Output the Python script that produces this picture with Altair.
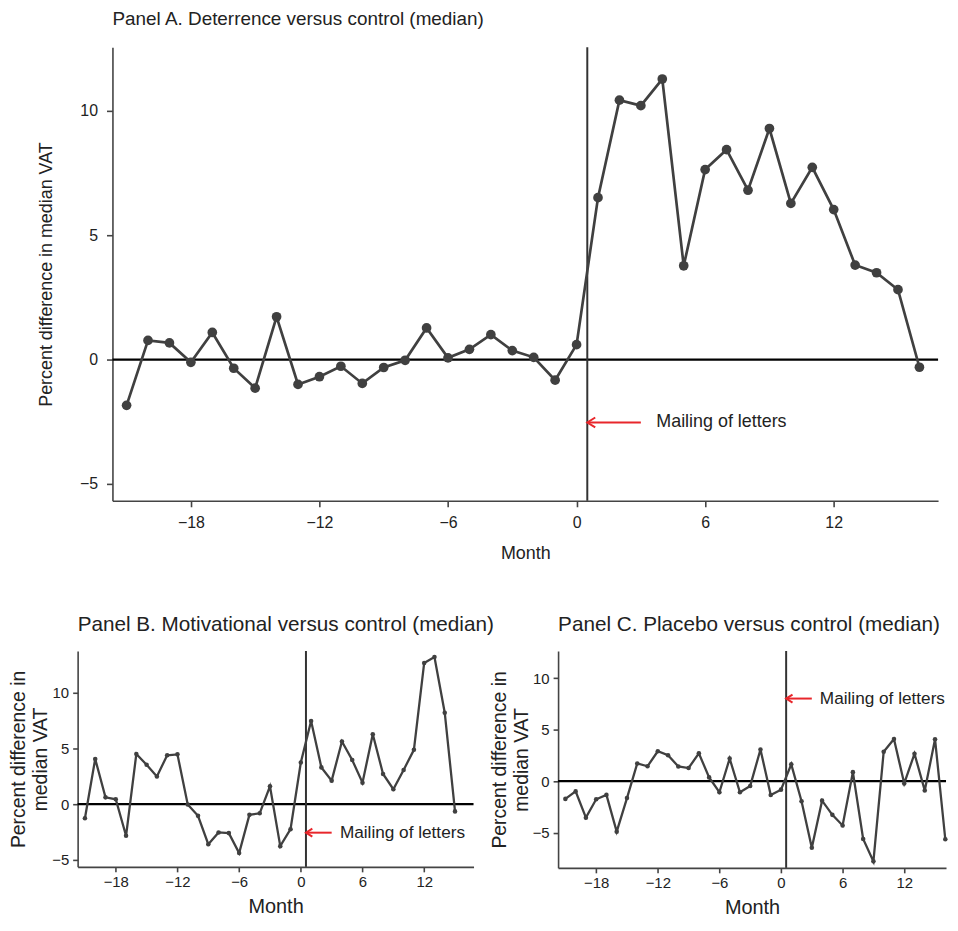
import altair as alt
import pandas as pd

# ---------------- data ----------------
months_a = list(range(-21, 17))
vat_a = [-1.84, 0.77, 0.67, -0.11, 1.09, -0.35, -1.15, 1.72, -1.0, -0.69, -0.27,
         -0.96, -0.32, -0.03, 1.27, 0.07, 0.41, 1.0, 0.36, 0.09, -0.83, 0.6,
         6.51, 10.43, 10.21, 11.28, 3.77, 7.64, 8.44, 6.81, 9.29, 6.28, 7.73,
         6.03, 3.8, 3.49, 2.81, -0.31]

months_b = list(range(-21, 16))
vat_b = [-1.26, 4.06, 0.61, 0.44, -2.84, 4.5, 3.54, 2.49, 4.39, 4.47, -0.03,
         -1.05, -3.6, -2.54, -2.6, -4.39, -0.96, -0.82, 1.61, -3.77, -2.25, 3.74,
         7.47, 3.3, 2.11, 5.63, 3.96, 1.93, 6.28, 2.71, 1.34, 3.07, 4.88, 12.68,
         13.21, 8.21, -0.65]

months_c = list(range(-21, 17))
vat_c = [-1.72, -0.99, -3.54, -1.76, -1.33, -4.9, -1.64, 1.72, 1.45, 2.91, 2.52,
         1.43, 1.28, 2.71, 0.37, -1.07, 2.2, -1.07, -0.46, 3.08, -1.35, -0.82,
         1.64, -1.95, -6.47, -1.89, -3.27, -4.3, 0.88, -5.61, -7.79, 2.87, 4.1,
         -0.22, 2.67, -0.91, 4.08, -5.64]

panel_titles = ["Panel A. Deterrence versus control (median)",
                "Panel B. Motivational versus control (median)",
                "Panel C. Placebo versus control (median)"]
mailing_label = "Mailing of letters"
mailing_month = 0.5
arrow_end = [3.0, 3.0, 3.0]
label_month = [3.72, 3.8, 3.78]
arrow_vat = [-2.53, -2.56, 8.03]
x_ticks = [-18, -12, -6, 0, 6, 12]
y_ticks = [-5, 0, 5, 10]

FONT = "Liberation Sans"
DARK = "#404040"
RED = "#e8262b"
TXT = "#222222"

# panel A sits 35 px to the right of panel B's left edge
A_SHIFT = 35


def panel(months, vals, idx, xdom, ydom, w, h, big):
    df = pd.DataFrame({"month": months, "vat": vals})
    if big:
        xaxis = alt.Axis(values=x_ticks, title="Month", labelFontSize=16, titleFontSize=18,
                         tickSize=6, labelPadding=8, titlePadding=14)
        yaxis = alt.Axis(values=y_ticks, title="Percent difference in median VAT",
                         labelFontSize=16, titleFontSize=18, offset=-A_SHIFT,
                         tickSize=6, labelPadding=9, titlePadding=24)
        xscale = alt.Scale(domain=xdom, nice=False, zero=False, range=[A_SHIFT, w])
        sw, sz, tfs, hs, tdx, toff, mfs = 2.7, 95, 19, 100, A_SHIFT, 17, 18
    else:
        xaxis = alt.Axis(values=x_ticks, title="Month", labelFontSize=15, titleFontSize=20,
                         tickSize=5, labelPadding=3, titlePadding=7)
        yaxis = alt.Axis(values=y_ticks, title=["Percent difference in", "median VAT"],
                         labelFontSize=15, titleFontSize=19.5, titleLineHeight=22,
                         tickSize=5, labelPadding=4, titlePadding=1)
        xscale = alt.Scale(domain=xdom, nice=False, zero=False)
        sw, sz, tfs, hs, tdx, toff, mfs = 2.3, 21, 20.8, 64, 0, 14, 17.3
    x = alt.X("month:Q", scale=xscale, axis=xaxis)
    y = alt.Y("vat:Q", scale=alt.Scale(domain=ydom, nice=False, zero=False), axis=yaxis)

    base = alt.Chart(df)
    line = base.mark_line(color=DARK, strokeWidth=sw).encode(x=x, y=y)
    pts = base.mark_circle(color=DARK, size=sz, opacity=1).encode(x=x, y=y)
    zero = alt.Chart(pd.DataFrame({"month": [xdom[0]], "month2": [xdom[1]], "vat": [0]})
                     ).mark_rule(color="black", strokeWidth=2.2).encode(
        x=x, x2="month2:Q", y=y)
    vline = alt.Chart(pd.DataFrame({"month": [mailing_month]})).mark_rule(
        color="#333333", strokeWidth=2).encode(x=x)
    ann = pd.DataFrame({"month": [mailing_month], "month2": [arrow_end[idx]],
                        "vat": [arrow_vat[idx]]})
    arrow = alt.Chart(ann).mark_rule(color=RED, strokeWidth=2).encode(
        x=x, x2="month2:Q", y=y)
    head = alt.Chart(ann).mark_point(
        shape="M 1.6 -1 L 0 0 L 1.6 1", filled=False, color=RED, strokeWidth=2,
        size=hs, opacity=1).encode(x=x, y=y)
    txt = alt.Chart(pd.DataFrame({"month": [label_month[idx]], "vat": [arrow_vat[idx]],
                                  "label": [mailing_label]})).mark_text(
        align="left", baseline="middle", fontSize=mfs, font=FONT, color=TXT
    ).encode(x=x, y=y, text="label:N")

    return alt.layer(zero, vline, line, pts, arrow, head, txt).properties(
        width=w, height=h,
        title=alt.TitleParams(panel_titles[idx], anchor="start", frame="group", dx=tdx,
                              fontSize=tfs, font=FONT,
                              fontWeight="normal", color=TXT, offset=toff),
    )


pa = panel(months_a, vat_a, 0, [-21.66, 16.87], [-5.68, 12.56], 830 + A_SHIFT, 456, True)
pb = panel(months_b, vat_b, 1, [-21.71, 16.8], [-5.63, 13.75], 398, 217, False)
pc = panel(months_c, vat_c, 2, [-21.71, 16.07], [-8.42, 12.65], 390, 218, False)

bottom = alt.hconcat(pb, pc, spacing=85, bounds="flush")
chart = alt.vconcat(pa, bottom, spacing=52).properties(
    padding={"left": 0, "top": 0, "right": 0, "bottom": 0}
).configure_view(strokeWidth=0).configure_axis(
    grid=False, domainColor="#444444", domainWidth=1.6, tickColor="#444444",
    tickWidth=1.6, labelFont=FONT, titleFont=FONT, labelColor=TXT, titleColor=TXT,
    titleFontWeight="normal"
)

chart.save("out.html", embed_options={"renderer": "svg", "actions": False})
